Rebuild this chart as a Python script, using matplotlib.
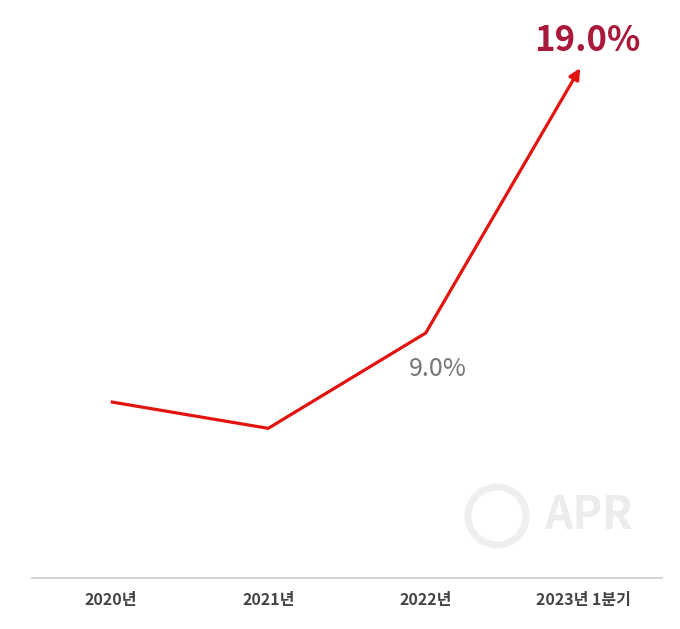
import matplotlib.pyplot as plt
from matplotlib.patches import Ellipse

plt.rcParams['font.family'] = ['Noto Sans CJK KR', 'DejaVu Sans']

# 데이터
labels = ['2020년', '2021년', '2022년', '2023년 1분기']
values = [6.4, 5.4, 9.0, 19.0]
shown = {2: '9.0%', 3: '19.0%'}

W, H = 680, 629
fig = plt.figure(figsize=(W / 100, H / 100), dpi=100)
ax = fig.add_axes([32 / W, 1 - 578 / H, 630 / W, 578 / H])

x = list(range(len(values)))
line_c = '#e3140f'

ax.plot(x[:-1], values[:-1], color=line_c, lw=2.3, solid_capstyle='butt', solid_joinstyle='miter')
ax.annotate('', xy=(x[-1] - 0.02, values[-1]), xytext=(x[-2], values[-2]),
            arrowprops=dict(arrowstyle='-|>', color=line_c, lw=2.3, mutation_scale=16,
                            shrinkA=0, shrinkB=0))

ax.annotate(shown[3], xy=(x[3], values[3]), xytext=(3, 20), textcoords='offset points',
            ha='center', va='center', fontsize=25, fontweight='bold', color='#a8193a')
ax.annotate(shown[2], xy=(x[2], values[2]), xytext=(9, -26), textcoords='offset points',
            ha='center', va='center', fontsize=18, color='#777777')

ax.set_xlim(-0.5, 3.5)
ax.set_ylim(-0.25, 21.57)
ax.set_xticks(x)
ax.set_xticklabels(labels, fontsize=11.5, fontweight='bold', color='#444444')
ax.tick_params(axis='x', length=0, pad=10)
ax.set_yticks([])
for s in ['top', 'right', 'left']:
    ax.spines[s].set_visible(False)
ax.spines['bottom'].set_color('#d0d0d0')
ax.spines['bottom'].set_linewidth(1.3)

# 워터마크
fig.add_artist(Ellipse((497 / W, 1 - 516 / H), 58 / W, 58 / H, transform=fig.transFigure,
                       fill=False, ec='#efefef', lw=5))
fig.text(588 / W, 1 - 516 / H, 'APR', ha='center', va='center', fontsize=32,
         fontweight='bold', color='#ececec')

fig.savefig('out.png', dpi=100)
